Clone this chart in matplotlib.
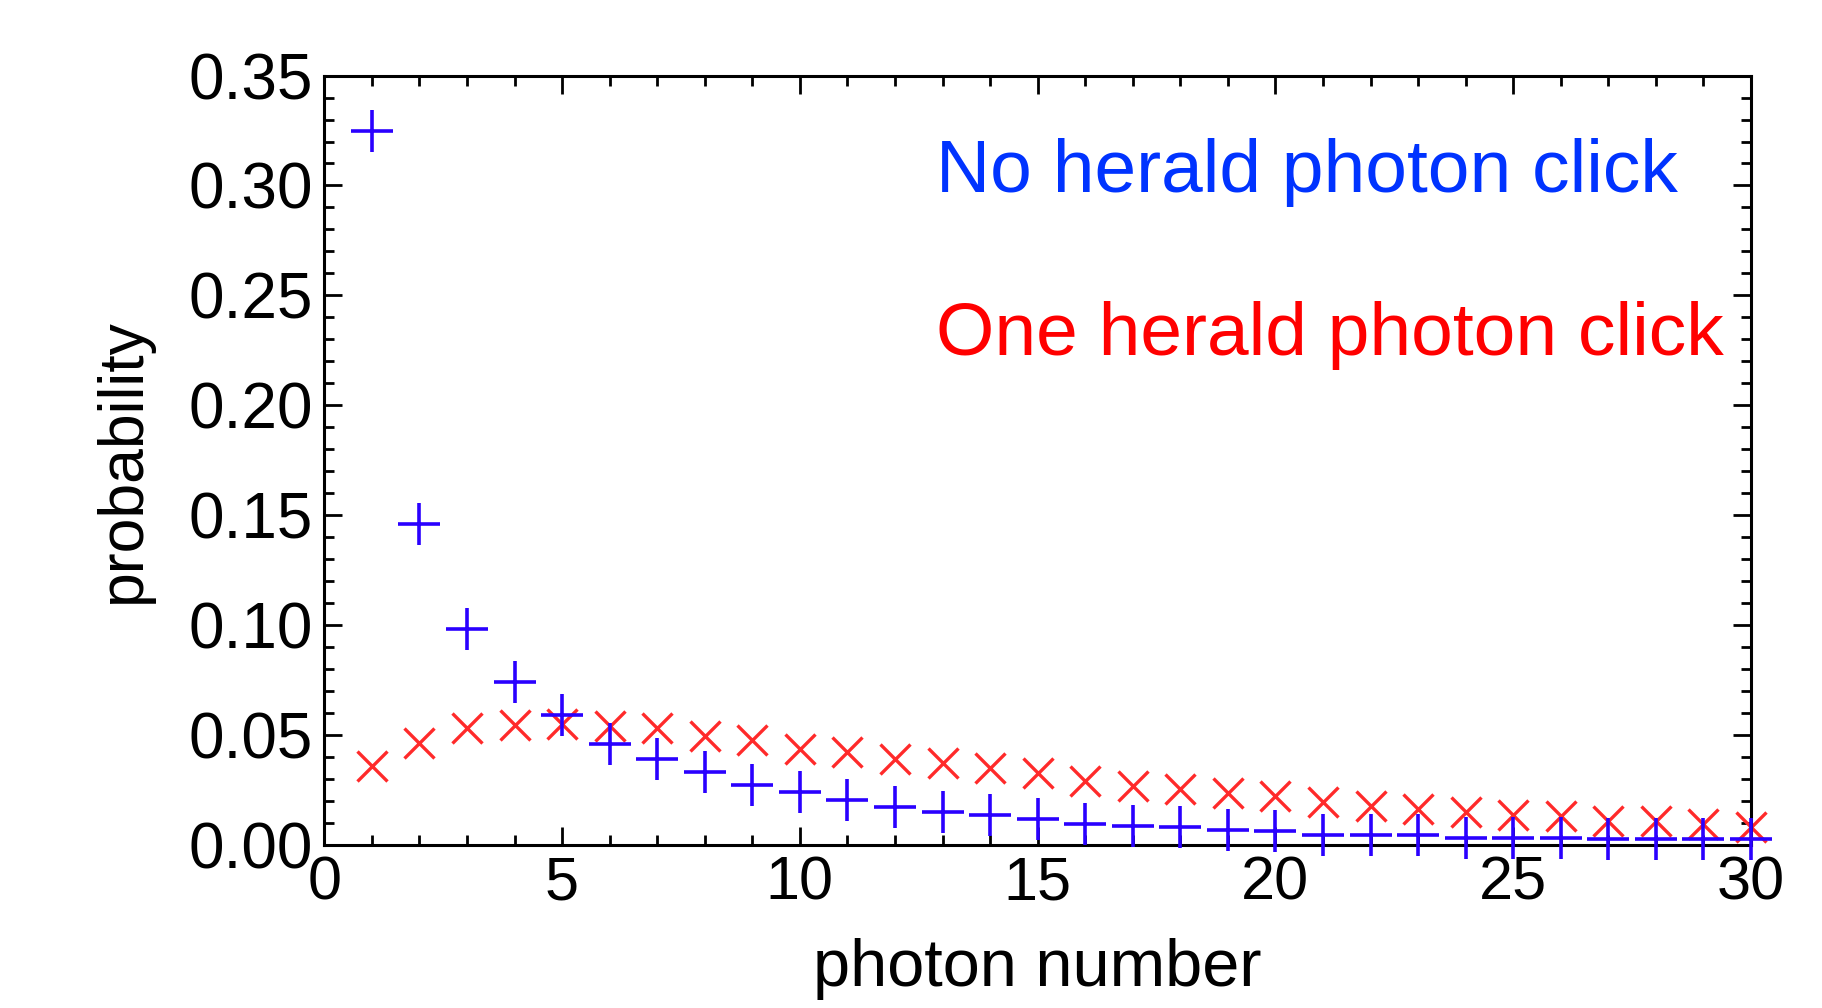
import numpy as np
import matplotlib
matplotlib.use("Agg")
import matplotlib.pyplot as plt
from matplotlib.ticker import MultipleLocator

plt.rcParams['font.family'] = ['Liberation Sans', 'DejaVu Sans']

# photon number distribution
photon_n = list(range(1, 31))
p_no_click = [0.325, 0.146, 0.098, 0.074, 0.059, 0.046, 0.039, 0.033, 0.027, 0.024,
              0.0205, 0.017, 0.015, 0.0135, 0.0117, 0.0096, 0.0083, 0.0079, 0.0066, 0.0064,
              0.0046, 0.0046, 0.0045, 0.0031, 0.003, 0.003, 0.0028, 0.0027, 0.0026, 0.0025]
p_one_click = [0.0356, 0.0462, 0.053, 0.0545, 0.0548, 0.0541, 0.053, 0.0495, 0.0477, 0.0435,
               0.0424, 0.0391, 0.0371, 0.0348, 0.0326, 0.029, 0.0266, 0.0253, 0.0235, 0.0223,
               0.0194, 0.0178, 0.0163, 0.0148, 0.0134, 0.0132, 0.011, 0.0109, 0.0092, 0.008]

x_ticks = [0, 5, 10, 15, 20, 25, 30]
y_ticks = [0.00, 0.05, 0.10, 0.15, 0.20, 0.25, 0.30, 0.35]

blue = '#2a00ff'
red = '#ff2a2a'

fig = plt.figure(figsize=(18.22, 10.08), dpi=100)
ax = fig.add_axes([0.178, 0.162, 0.783, 0.763])

ax.plot(photon_n, p_no_click, linestyle='none', marker='+', markersize=30,
        markeredgewidth=2.6, color=blue, clip_on=False, zorder=3)
ax.plot(photon_n, p_one_click, linestyle='none', marker='x', markersize=22,
        markeredgewidth=2.4, color=red, clip_on=False, zorder=2)

ax.set_xlim(0, 30)
ax.set_ylim(0, 0.35)
ax.set_xticks(x_ticks)
ax.set_yticks(y_ticks)
ax.set_yticklabels([f"{v:.2f}" for v in y_ticks])
ax.xaxis.set_minor_locator(MultipleLocator(1))
ax.yaxis.set_minor_locator(MultipleLocator(0.01))

ax.tick_params(which='both', direction='in', top=True, right=True, width=2)
ax.tick_params(which='major', length=13, pad=8)
ax.tick_params(which='minor', length=7)
ax.tick_params(axis='x', labelsize=44)
ax.tick_params(axis='y', labelsize=46)
for s in ax.spines.values():
    s.set_linewidth(2.2)

# keep the x label just inside the canvas
ax.set_xlabel("photon number", fontsize=48, labelpad=18)
ax.set_ylabel("probability", fontsize=45, labelpad=26)

ax.text(0.429, 0.874, "No herald photon click", transform=ax.transAxes,
        fontsize=54, color='#0033ff', ha='left', va='center')
ax.text(0.429, 0.662, "One herald photon click", transform=ax.transAxes,
        fontsize=54, color='#ff0000', ha='left', va='center')

fig.savefig("out.png", dpi=100)
plt.close(fig)
